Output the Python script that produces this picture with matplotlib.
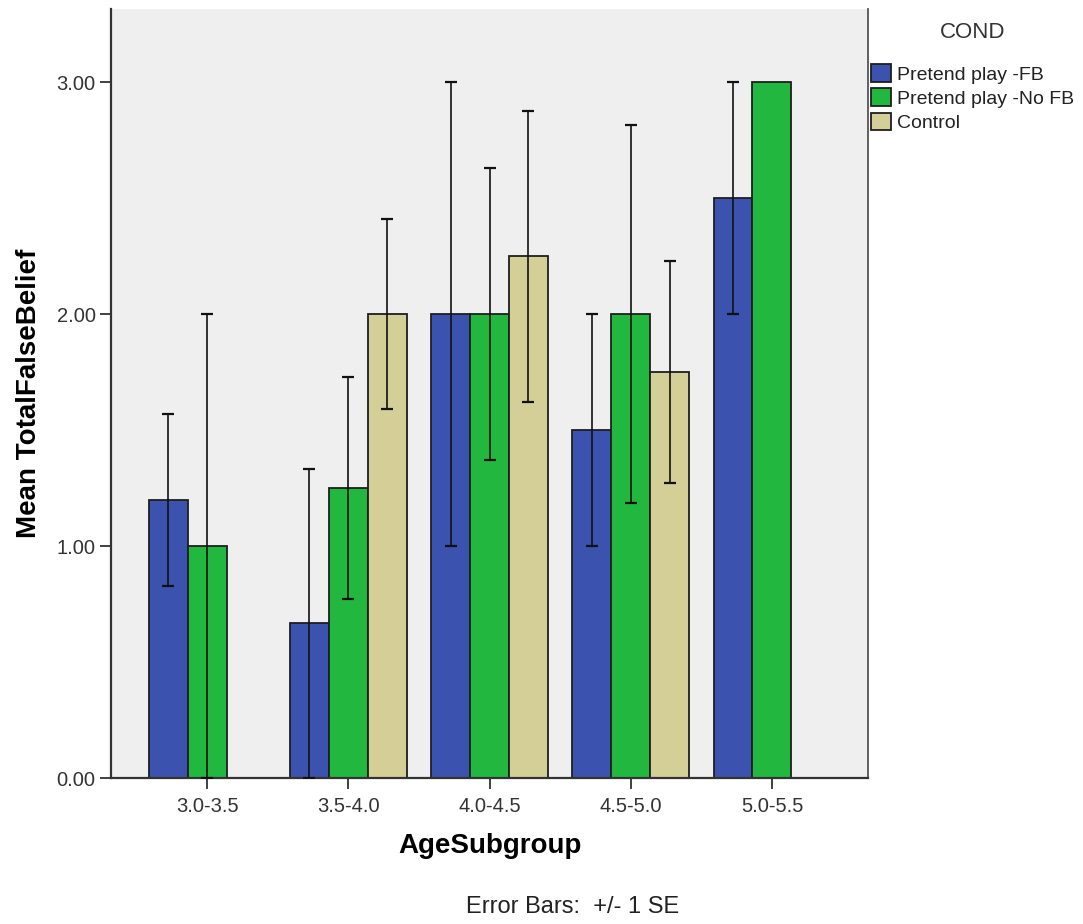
import numpy as np
import matplotlib
matplotlib.use("Agg")
from matplotlib import pyplot as plt
from matplotlib.patches import Patch

plt.rcParams['font.family'] = ['Liberation Sans', 'DejaVu Sans']

# data (0 mean / NaN SE = no bar for that group)
age_groups = ['3.0-3.5', '3.5-4.0', '4.0-4.5', '4.5-5.0', '5.0-5.5']
conditions = ['Pretend play -FB', 'Pretend play -No FB', 'Control']
mean_fb = [1.2, 0.667, 2.0, 1.5, 2.5]
mean_nofb = [1.0, 1.25, 2.0, 2.0, 3.0]
mean_control = [0.0, 2.0, 2.25, 1.75, 0.0]
se_fb = [0.37, 0.667, 1.0, 0.5, 0.5]
se_nofb = [1.0, 0.478, 0.63, 0.815, 0.0]
se_control = [np.nan, 0.41, 0.627, 0.48, np.nan]

colors = ['#3b52ae', '#22b83f', '#d4cf96']
edge = '#1e1e1e'

means = [mean_fb, mean_nofb, mean_control]
ses = [se_fb, se_nofb, se_control]

fig = plt.figure(figsize=(10.83, 9.24), dpi=100)
ax = fig.add_axes([0.1025, 0.158, 0.699, 0.832])
ax.set_facecolor('#efefef')

x = np.arange(len(age_groups))
w = 0.276
for i in range(3):
    pos = x + (i - 1) * w
    ax.bar(pos, means[i], width=w, color=colors[i], edgecolor=edge, linewidth=1.3, zorder=2)
    err = np.array(ses[i], dtype=float)
    ok = ~np.isnan(err) & (err > 0)
    ax.errorbar(pos[ok], np.array(means[i])[ok], yerr=err[ok], fmt='none',
                ecolor='#111111', elinewidth=1.2, capsize=4, capthick=1.6, zorder=3)

ax.set_xlim(-0.68, 4.68)
ax.set_ylim(0, 3.315)
ax.set_yticks([0, 1, 2, 3])
ax.set_yticklabels(['0.00', '1.00', '2.00', '3.00'])
ax.set_xticks(x)
ax.set_xticklabels(age_groups)
ax.tick_params(axis='both', labelsize=14.5, colors='#333333', length=8, width=1.3)
ax.tick_params(axis='x', pad=6)
ax.tick_params(axis='y', pad=3)

ax.spines['top'].set_visible(False)
for s in ['left', 'bottom']:
    ax.spines[s].set_linewidth(1.6)
    ax.spines[s].set_color('#333333')
ax.spines['right'].set_linewidth(1.3)
ax.spines['right'].set_color('#555555')

ax.set_xlabel('AgeSubgroup', fontsize=20, fontweight='bold', labelpad=12)
ax.set_ylabel('Mean TotalFalseBelief', fontsize=20, fontweight='bold')
ax.yaxis.set_label_coords(-0.091, 0.5)

fig.text(0.529, 0.007, 'Error Bars:  +/- 1 SE', fontsize=17, ha='center', va='bottom', color='#222222')

handles = [Patch(facecolor=c, edgecolor=edge, linewidth=1.3) for c in colors]
leg = fig.legend(handles, conditions, loc='upper left', bbox_to_anchor=(0.801, 0.980),
                 frameon=False, fontsize=14, title='COND', title_fontsize=16,
                 handlelength=1.0, handleheight=1.0, handletextpad=0.3,
                 labelspacing=0.25, borderpad=0.2, borderaxespad=0)
leg._legend_box.sep = 15
for t in leg.get_texts():
    t.set_color('#222222')
leg.get_title().set_color('#333333')

fig.savefig('out.png', dpi=100)
